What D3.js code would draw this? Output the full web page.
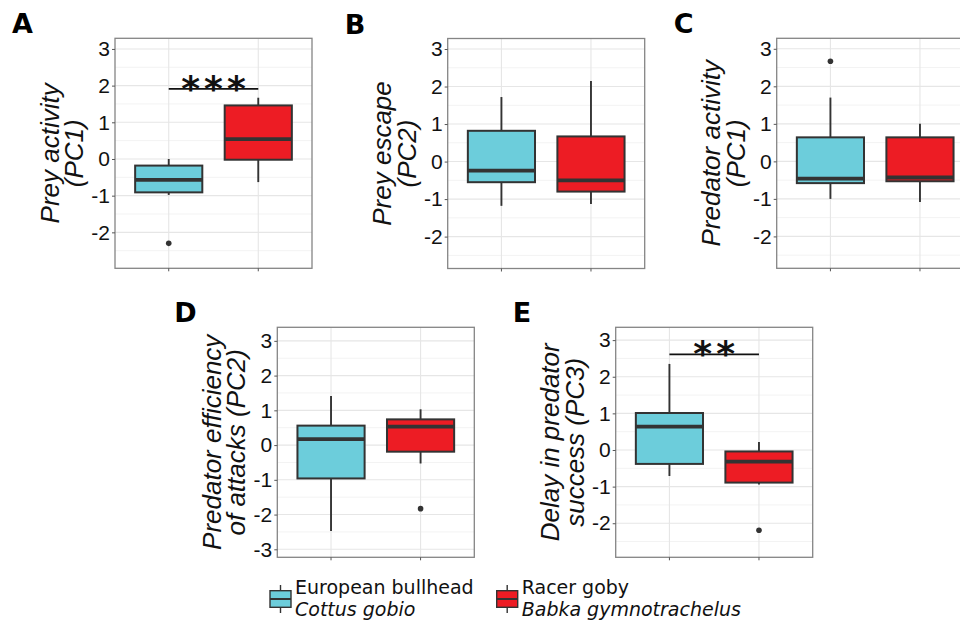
<!DOCTYPE html>
<html>
<head>
<meta charset="utf-8">
<script src="https://cdn.jsdelivr.net/npm/d3@7"></script>
<style>
  body { margin: 0; background: #fff; }
  svg { display: block; }
</style>
</head>
<body>
<svg id="fig"></svg>
<script>
// species (x categories) and legend text
const species = ["European bullhead", "Racer goby"];
const speciesLatin = ["Cottus gobio", "Babka gymnotrachelus"];

// one entry per panel
const panelLetters = ["A", "B", "C", "D", "E"];
const yTitles = [
    ["Prey activity", "(PC1)"],
    ["Prey escape", "(PC2)"],
    ["Predator activity", "(PC1)"],
    ["Predator efficiency", "of attacks (PC2)"],
    ["Delay in predator", "success (PC3)"]
];
const yLimits = [[-2.98, 3.29], [-2.85, 3.28], [-2.85, 3.28], [-3.23, 3.39], [-2.93, 3.35]];
const yTicks = [
    [-2, -1, 0, 1, 2, 3],
    [-2, -1, 0, 1, 2, 3],
    [-2, -1, 0, 1, 2, 3],
    [-3, -2, -1, 0, 1, 2, 3],
    [-2, -1, 0, 1, 2, 3]
];

// box statistics, [bullhead, goby] for each panel
const whiskerLow  = [[-0.98, -0.63], [-1.18, -1.13], [-1.00, -1.08], [-2.47, -0.53], [-0.71, -0.94]];
const q1          = [[-0.91, -0.02], [-0.55, -0.80], [-0.58, -0.53], [-0.96, -0.19], [-0.38, -0.89]];
const medians     = [[-0.57,  0.54], [-0.24, -0.50], [-0.46, -0.43], [ 0.17,  0.53], [ 0.64, -0.32]];
const q3          = [[-0.18,  1.46], [ 0.82,  0.67], [ 0.64,  0.64], [ 0.56,  0.74], [ 1.01, -0.04]];
const whiskerHigh = [[ 0.00,  1.67], [ 1.72,  2.15], [ 1.70,  1.00], [ 1.41,  1.03], [ 2.35,  0.22]];
const outliers    = [[[-2.30], []], [[], []], [[2.67], []], [[], [-1.83]], [[], [-2.19]]];

// significance brackets
const sigPanels = [0, 4];
const sigHeights = [1.91, 2.61];
const sigLabels = ["***", "**"];

const fills = ["#6ccddb", "#ed1c24"];
const dark = "#333333";

const width = 960, height = 621;
const svg = d3.select("#fig").attr("width", width).attr("height", height);

// plot-area top-left corners (layout)
const panelPos = [[115, 38.3], [447.7, 38.5], [776.7, 38.3], [277.3, 327.3], [615.7, 327.3]];
const pw = 197, ph = 230;

panelLetters.forEach((letter, p) => {
    const [px, py] = panelPos[p];
    const g = svg.append("g").attr("transform", `translate(${px},${py})`);

    const x = d3.scaleBand().domain(species).range([0, pw])
        .paddingInner(0.25).paddingOuter(0.225);
    const y = d3.scaleLinear().domain(yLimits[p]).range([ph, 0]);

    // grid
    const lo = Math.ceil(yLimits[p][0] * 2) / 2, hi = Math.floor(yLimits[p][1] * 2) / 2;
    const minor = d3.range(lo, hi + 0.01, 0.5).filter(v => !Number.isInteger(v));
    g.selectAll(".minor").data(minor).join("line")
        .attr("x1", 0).attr("x2", pw)
        .attr("y1", d => y(d)).attr("y2", d => y(d))
        .attr("stroke", "#f3f3f3").attr("stroke-width", 1);
    g.selectAll(".major").data(yTicks[p]).join("line")
        .attr("x1", 0).attr("x2", pw)
        .attr("y1", d => y(d)).attr("y2", d => y(d))
        .attr("stroke", "#e6e6e6").attr("stroke-width", 1.1);
    g.selectAll(".vmajor").data(species).join("line")
        .attr("x1", d => x(d) + x.bandwidth() / 2).attr("x2", d => x(d) + x.bandwidth() / 2)
        .attr("y1", 0).attr("y2", ph)
        .attr("stroke", "#e6e6e6").attr("stroke-width", 1.1);

    // boxes
    species.forEach((s, i) => {
        const cx = x(s) + x.bandwidth() / 2;
        g.append("line")
            .attr("x1", cx).attr("x2", cx)
            .attr("y1", y(whiskerHigh[p][i])).attr("y2", y(whiskerLow[p][i]))
            .attr("stroke", dark).attr("stroke-width", 1.9);
        g.append("rect")
            .attr("x", x(s)).attr("width", x.bandwidth())
            .attr("y", y(q3[p][i])).attr("height", y(q1[p][i]) - y(q3[p][i]))
            .attr("fill", fills[i]).attr("stroke", dark).attr("stroke-width", 2);
        g.append("line")
            .attr("x1", x(s)).attr("x2", x(s) + x.bandwidth())
            .attr("y1", y(medians[p][i])).attr("y2", y(medians[p][i]))
            .attr("stroke", dark).attr("stroke-width", 3.8);
        g.selectAll(null).data(outliers[p][i]).join("circle")
            .attr("cx", cx).attr("cy", d => y(d)).attr("r", 2.8)
            .attr("fill", dark);
    });

    // border
    g.append("rect").attr("width", pw).attr("height", ph)
        .attr("fill", "none").attr("stroke", "#858585").attr("stroke-width", 1.3);

    // y axis
    const ya = g.append("g").call(d3.axisLeft(y).tickValues(yTicks[p])
        .tickSize(3).tickPadding(2).tickFormat(d => String(d)));
    ya.select(".domain").remove();
    ya.selectAll(".tick line").attr("stroke", "#555");
    ya.selectAll(".tick text").attr("fill", "#111")
        .style("font-family", "'Liberation Sans', Arial, sans-serif").style("font-size", "21px");

    // x axis ticks only
    const xa = g.append("g").attr("transform", `translate(0,${ph})`)
        .call(d3.axisBottom(x).tickSize(3).tickFormat(""));
    xa.select(".domain").remove();
    xa.selectAll(".tick line").attr("stroke", "#555");

    // y title
    const lines = yTitles[p];
    const t = svg.append("g")
        .attr("transform", `translate(${px - 32},${py + ph / 2}) rotate(-90)`);
    lines.forEach((ln, k) => {
        t.append("text")
            .attr("y", -(lines.length - 1 - k) * 24.5)
            .attr("text-anchor", "middle")
            .style("font-family", "'Liberation Sans', Arial, sans-serif")
            .style("font-style", "italic").style("font-size", "26px")
            .attr("fill", "#111")
            .text(ln);
    });

    // panel letter
    svg.append("text")
        .attr("x", px - 103).attr("y", py - 5)
        .style("font-family", "'DejaVu Sans', Verdana, sans-serif")
        .style("font-weight", "bold").style("font-size", "27px")
        .attr("fill", "#000")
        .text(letter);
});

// significance brackets
sigPanels.forEach((p, k) => {
    const [px, py] = panelPos[p];
    const x = d3.scaleBand().domain(species).range([0, pw])
        .paddingInner(0.25).paddingOuter(0.225);
    const y = d3.scaleLinear().domain(yLimits[p]).range([ph, 0]);
    const x1 = px + x(species[0]) + x.bandwidth() / 2;
    const x2 = px + x(species[1]) + x.bandwidth() / 2;
    const yy = py + y(sigHeights[k]);
    svg.append("line").attr("x1", x1).attr("x2", x2).attr("y1", yy).attr("y2", yy)
        .attr("stroke", "#111").attr("stroke-width", 1.8);
    svg.append("text")
        .attr("x", (x1 + x2) / 2 + 2).attr("y", yy + 12)
        .attr("text-anchor", "middle")
        .attr("letter-spacing", "4px")
        .style("font-family", "'DejaVu Sans', sans-serif")
        .style("font-weight", "bold").style("font-size", "36px")
        .attr("fill", "#111")
        .text(sigLabels[k]);
});

// legend
const legendX = [270, 496.7];
species.forEach((s, i) => {
    const lg = svg.append("g").attr("transform", `translate(${legendX[i]},0)`);
    const kw = 21;
    lg.append("line").attr("x1", kw / 2).attr("x2", kw / 2).attr("y1", 585).attr("y2", 613)
        .attr("stroke", dark).attr("stroke-width", 1.4);
    lg.append("rect").attr("x", 0).attr("y", 590.7).attr("width", kw).attr("height", 16.6)
        .attr("fill", fills[i]).attr("stroke", dark).attr("stroke-width", 1.4);
    lg.append("line").attr("x1", 0).attr("x2", kw).attr("y1", 599).attr("y2", 599)
        .attr("stroke", dark).attr("stroke-width", 2);
    lg.append("text").attr("x", kw + 4).attr("y", 593.5)
        .style("font-family", "'DejaVu Sans', Verdana, sans-serif").style("font-size", "19px")
        .attr("fill", "#111").text(s);
    lg.append("text").attr("x", kw + 4).attr("y", 616)
        .style("font-family", "'DejaVu Sans', Verdana, sans-serif").style("font-size", "19px")
        .style("font-style", "italic")
        .attr("fill", "#111").text(speciesLatin[i]);
});
</script>
</body>
</html>
